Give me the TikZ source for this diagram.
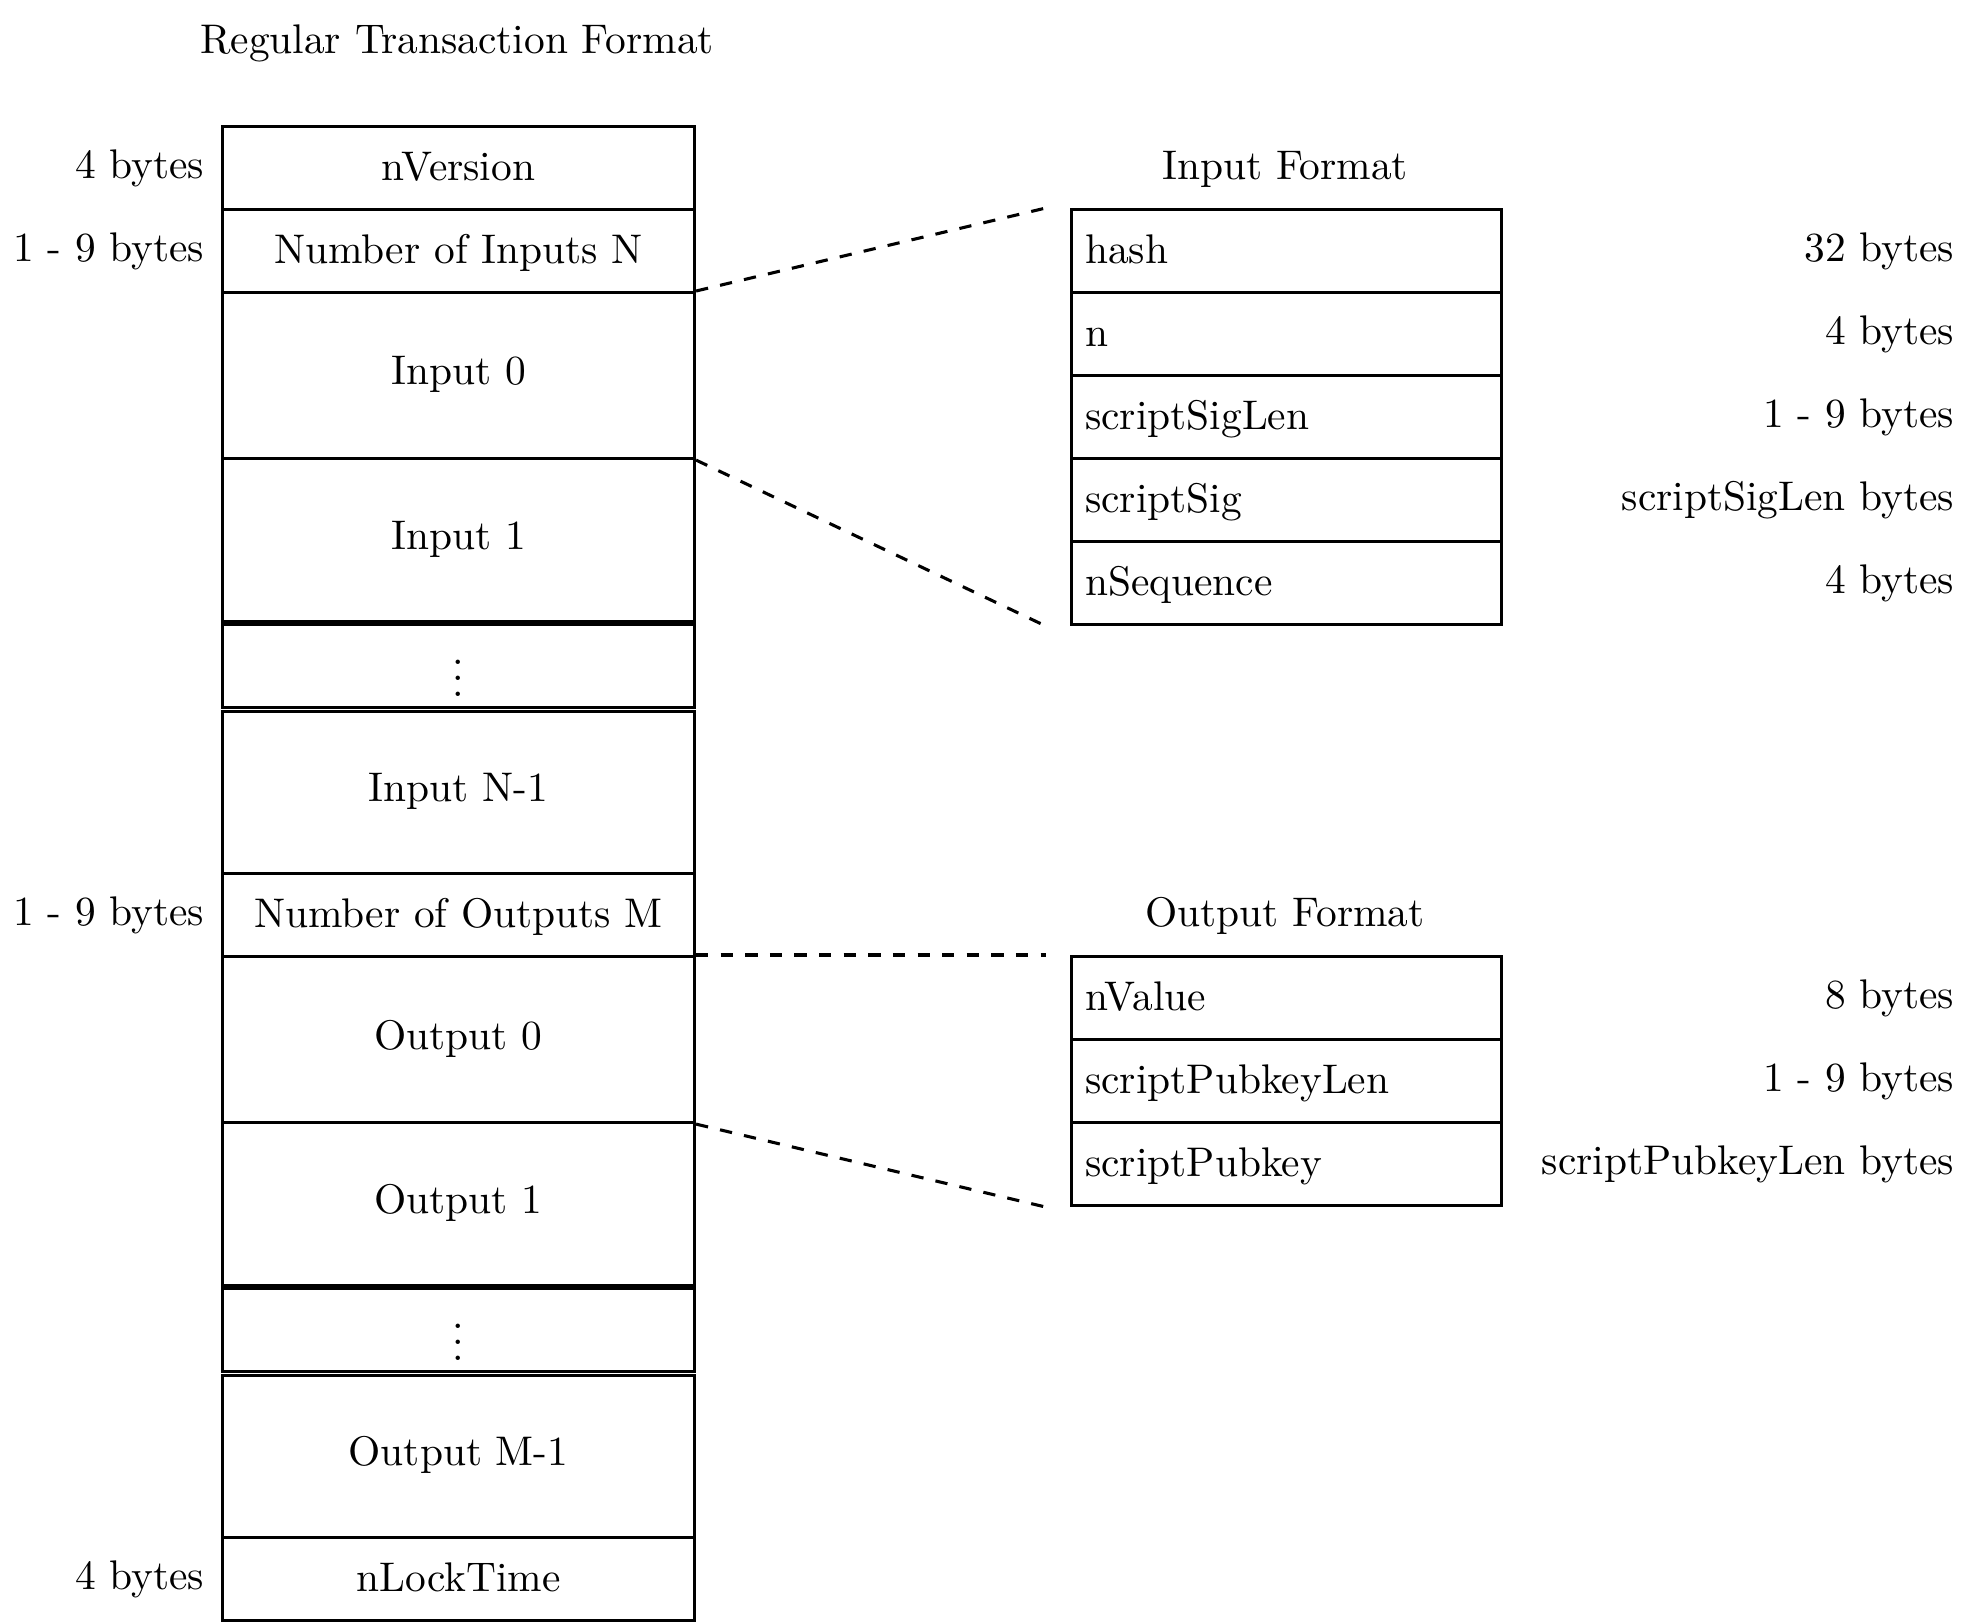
\documentclass[tikz,border=0pt]{standalone}
\usetikzlibrary{positioning}
\begin{document}
\begin{tikzpicture}[x=0.2439pt,y=-0.2439pt,
  every node/.style={inner sep=0pt, font=\fontsize{10.1pt}{12pt}\selectfont},
  cell/.style={draw, line width=0.75pt, rectangle, anchor=north west, minimum width=115.12pt},
  fmtcell/.style={draw, line width=0.75pt, rectangle, anchor=north west, text width=98.21pt, inner xsep=3.333pt, align=left, minimum height=20.24pt, text height=8.2pt, text depth=2pt},
  hone/.style={minimum height=20.24pt},
  htwo/.style={minimum height=40.49pt},
  hshort/.style={minimum height=39.63pt},
  txt/.style={text height=8.2pt, text depth=2pt},
  txttwo/.style={text height=6.6pt, text depth=2pt},
  lbl/.style={anchor=east, text height=8.2pt, text depth=2pt},
  conn/.style={dashed, line width=0.75pt}
]
\useasboundingbox (0,0) rectangle (1974,1621);

% title
\node[txt] (title) at (457,41) {Regular Transaction Format};

% main column
\node[cell,hone,txt] (nv)   at (221,125)  {nVersion};
\node[cell,hone,txt] (ni)   at (221,208)  {Number of Inputs N};
\node[cell,htwo,txttwo] (in0)  at (221,291)  {Input 0};
\node[cell,hshort,txttwo] (in1) at (221,457) {Input 1};
\node[cell,hone] (da)       at (221,623)  {$\vdots$};
\node[cell,hshort,txttwo] (inN) at (221,709.5) {Input N-1};
\node[cell,hone,txt] (no)   at (221,872)  {Number of Outputs M};
\node[cell,htwo,txttwo] (out0) at (221,955)  {Output 0};
\node[cell,hshort,txttwo] (out1) at (221,1121) {Output 1};
\node[cell,hone] (db)       at (221,1287) {$\vdots$};
\node[cell,hshort,txttwo] (outM) at (221,1373.5) {Output M-1};
\node[cell,hone,txt] (nl)   at (221,1536) {nLockTime};

% left size labels
\node[lbl] (lnv) at (205,166) {4 bytes};
\node[lbl] (lni) at (205,249) {1 - 9 bytes};
\node[lbl] (lno) at (205,913) {1 - 9 bytes};
\node[lbl] (lnl) at (205,1577) {4 bytes};

% input format
\node[txt] (ift) at (1285,167) {Input Format};
\node[fmtcell] (ih)  at (1070,208) {hash};
\node[fmtcell] (inn) at (1070,291) {n};
\node[fmtcell] (isl) at (1070,374) {scriptSigLen};
\node[fmtcell] (iss) at (1070,457) {scriptSig};
\node[fmtcell] (isq) at (1070,540) {nSequence};

\node[lbl] (rih)  at (1955,249) {32 bytes};
\node[lbl] (rinn) at (1955,332) {4 bytes};
\node[lbl] (risl) at (1955,415) {1 - 9 bytes};
\node[lbl] (riss) at (1955,498) {scriptSigLen bytes};
\node[lbl] (risq) at (1955,581) {4 bytes};

% output format
\node[txt] (oft) at (1285,914) {Output Format};
\node[fmtcell] (ov)  at (1070,955)  {nValue};
\node[fmtcell] (opl) at (1070,1038) {scriptPubkeyLen};
\node[fmtcell] (opk) at (1070,1121) {scriptPubkey};

\node[lbl] (rov)  at (1955,996)  {8 bytes};
\node[lbl] (ropl) at (1955,1079) {1 - 9 bytes};
\node[lbl] (ropk) at (1955,1162) {scriptPubkeyLen bytes};

% dashed connectors
\draw[conn] (in0.north east) -- ([xshift=-5.9pt]ih.north west);
\draw[conn] (in0.south east) -- ([xshift=-5.9pt]isq.south west);
\draw[conn] (out0.north east) -- ([xshift=-5.9pt]ov.north west);
\draw[conn] (out0.south east) -- ([xshift=-5.9pt]opk.south west);
\end{tikzpicture}
\end{document}
